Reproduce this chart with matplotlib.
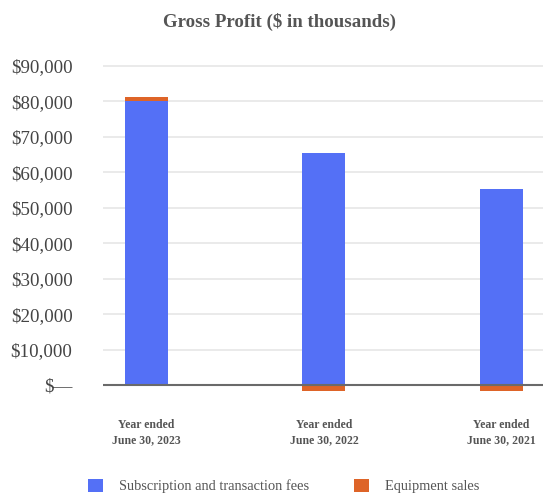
import matplotlib
matplotlib.use("Agg")
import matplotlib.pyplot as plt
from matplotlib.patches import Patch
from matplotlib.ticker import FuncFormatter, MultipleLocator

# Gross profit by fiscal year, $ in thousands
periods = ["Year ended\nJune 30, 2023", "Year ended\nJune 30, 2022", "Year ended\nJune 30, 2021"]
subscription_fees = [80200, 65500, 55300]
equipment_sales = [1100, -1600, -1600]
series_names = ["Subscription and transaction fees", "Equipment sales"]

BLUE = "#5470f6"
ORANGE = "#de6428"

plt.rcParams["font.family"] = ["Liberation Serif", "DejaVu Serif"]

W, H = 543, 496
fig = plt.figure(figsize=(W / 100, H / 100), dpi=100)
ax = fig.add_axes([103 / W, 100.4 / H, 440 / W, 340.2 / H])

x = list(range(len(periods)))
width = 0.242
ax.bar(x, subscription_fees, width=width, color=BLUE, zorder=2)
# positive equipment sales stack on top of fees, negative ones hang below zero
bottoms = [s if e >= 0 else 0 for s, e in zip(subscription_fees, equipment_sales)]
ax.bar(x, equipment_sales, width=width, bottom=bottoms, color=ORANGE, zorder=2)

ax.set_xlim(-0.245, 2.234)
ax.set_ylim(-3000, 93000)
ax.yaxis.set_major_locator(MultipleLocator(10000))


def money(v, _):
    if abs(v) < 1e-6:
        return "$\u2014"
    return "${:,.0f}".format(v)


ax.yaxis.set_major_formatter(FuncFormatter(money))
ax.grid(axis="y", color="#e6e6e6", linewidth=1.2, zorder=0)
ax.axhline(0, color="#6a6a6a", linewidth=1.5, zorder=3)

for side in ax.spines.values():
    side.set_visible(False)

ax.tick_params(axis="y", length=0, pad=22, labelsize=13.6, labelcolor="#444444")
ax.set_xticks(x)
ax.set_xticklabels(periods, fontsize=8.5, fontweight="bold", color="#555555", linespacing=1.3)
ax.tick_params(axis="x", length=0, pad=17)

fig.text(279.5 / W, 1 - 22 / H, "Gross Profit ($ in thousands)", ha="center", va="center",
         fontsize=13.6, fontweight="bold", color="#555555")

handles = [Patch(facecolor=BLUE, edgecolor="none"), Patch(facecolor=ORANGE, edgecolor="none")]
fig.legend(handles, series_names, loc="center left", bbox_to_anchor=(88 / W, 1 - 486 / H),
           ncol=2, frameon=False, fontsize=10.4, handlelength=1.05, handleheight=1.05,
           handletextpad=1.1, columnspacing=3.1, borderpad=0, borderaxespad=0,
           labelcolor="#555555")

fig.savefig("out.png", dpi=100)
